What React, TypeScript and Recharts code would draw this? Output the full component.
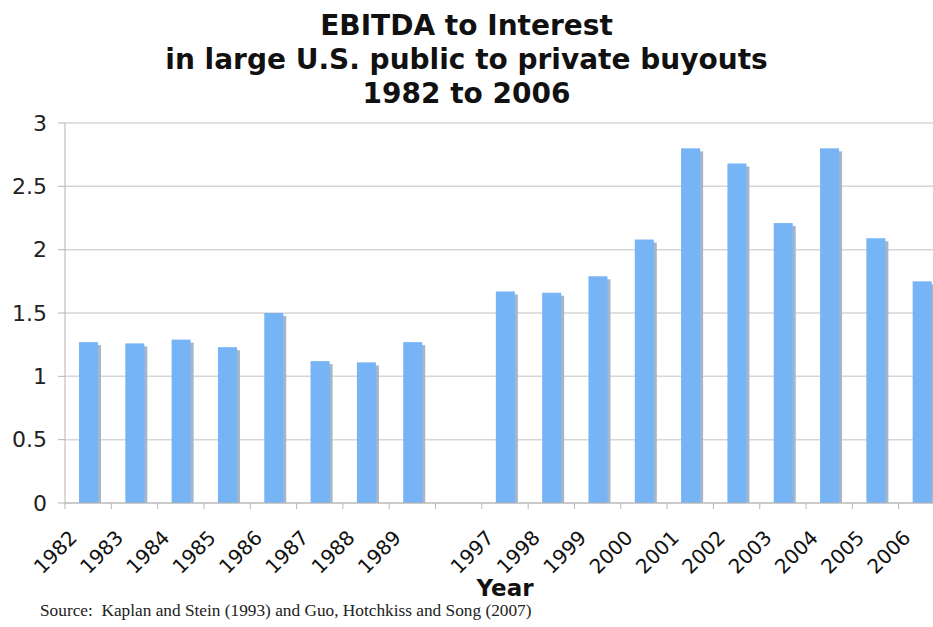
import React from "react"
import { BarChart, Bar, XAxis, YAxis, CartesianGrid } from "recharts"

// ------------------------------------------------------------
// Data
// ------------------------------------------------------------

const years = [
  "1982", "1983", "1984", "1985", "1986", "1987", "1988", "1989",
  "",
  "1997", "1998", "1999", "2000", "2001", "2002", "2003", "2004", "2005", "2006",
]

const ebitdaToInterest = [
  1.27, 1.26, 1.29, 1.23, 1.5, 1.12, 1.11, 1.27,
  null,
  1.67, 1.66, 1.79, 2.08, 2.8, 2.68, 2.21, 2.8, 2.09, 1.75,
]

const yTicks = [0, 0.5, 1, 1.5, 2, 2.5, 3]

const chartData = years.map((year, i) => ({ year, value: ebitdaToInterest[i] }))

// ------------------------------------------------------------
// Layout
// ------------------------------------------------------------

const CHART_W = 945
const CHART_H = 627
const PLOT_LEFT = 65
const PLOT_RIGHT_MARGIN = 0
const BAND = (CHART_W - PLOT_LEFT - PLOT_RIGHT_MARGIN) / years.length

const BAR_COLOR = "#76b4f6"
const SHADOW_COLOR = "#a3b6cc"

function ShadowBar(props: any) {
  const { x, y, width, height } = props
  if (height == null || height <= 0) return null
  return (
    <g>
      <rect x={x + 3} y={y + 3} width={width} height={height - 3} fill={SHADOW_COLOR} />
      <rect x={x} y={y} width={width} height={height} fill={BAR_COLOR} />
    </g>
  )
}

function YearTick(props: any) {
  const { x, y, payload } = props
  const edge = x - BAND / 2
  const lx = x - 10
  const ly = y + 36
  return (
    <g>
      <line x1={edge} y1={y} x2={edge} y2={y + 6} stroke="#b5b5b5" strokeWidth={1} />
      {payload.value !== "" && (
        <text
          x={lx}
          y={ly}
          textAnchor="end"
          fontSize={20}
          fontFamily="'DejaVu Sans', Verdana, sans-serif"
          fill="#111"
          transform={`rotate(-45, ${lx}, ${ly})`}
        >
          {payload.value}
        </text>
      )}
    </g>
  )
}

export default function App() {
  return (
    <div
      style={{
        position: "absolute",
        left: 0,
        top: 0,
        width: 933,
        height: 627,
        overflow: "hidden",
        background: "#fff",
        fontFamily: "'DejaVu Sans', Verdana, sans-serif",
      }}
    >
      <div
        style={{
          position: "absolute",
          left: 0,
          top: 9,
          width: 933,
          textAlign: "center",
          fontSize: 28,
          lineHeight: "34px",
          fontWeight: "bold",
          color: "#111",
        }}
      >
        <div>EBITDA to Interest</div>
        <div>in large U.S. public to private buyouts</div>
        <div>1982 to 2006</div>
      </div>

      <div style={{ position: "absolute", left: 0, top: 0 }}>
        <BarChart
          width={CHART_W}
          height={CHART_H}
          data={chartData}
          margin={{ top: 123, right: PLOT_RIGHT_MARGIN, bottom: 0, left: 0 }}
          barSize={19}
        >
          <CartesianGrid vertical={false} stroke="#d6d6d6" strokeWidth={1.5} />
          <XAxis
            dataKey="year"
            interval={0}
            tickLine={false}
            tickSize={0}
            tickMargin={0}
            axisLine={{ stroke: "#b5b5b5" }}
            tick={<YearTick />}
            height={124}
          />
          <YAxis
            domain={[0, 3]}
            ticks={yTicks}
            width={PLOT_LEFT}
            tickSize={7}
            tickMargin={11}
            axisLine={{ stroke: "#b5b5b5" }}
            tickLine={{ stroke: "#b5b5b5" }}
            tick={{ fontSize: 22, fill: "#222", fontFamily: "'DejaVu Sans', Verdana, sans-serif" }}
          />
          <Bar dataKey="value" shape={<ShadowBar />} isAnimationActive={false} />
        </BarChart>
      </div>

      <div
        style={{
          position: "absolute",
          left: 0,
          top: 575,
          width: CHART_W,
          paddingLeft: PLOT_LEFT,
          boxSizing: "border-box",
          textAlign: "center",
          fontSize: 23,
          fontWeight: "bold",
          color: "#111",
        }}
      >
        Year
      </div>

      <div
        style={{
          position: "absolute",
          left: 40,
          top: 601,
          fontFamily: "'Liberation Serif', 'Times New Roman', serif",
          fontSize: 17.3,
          color: "#222",
          whiteSpace: "pre",
        }}
      >
        {"Source:  Kaplan and Stein (1993) and Guo, Hotchkiss and Song (2007)"}
      </div>
    </div>
  )
}
